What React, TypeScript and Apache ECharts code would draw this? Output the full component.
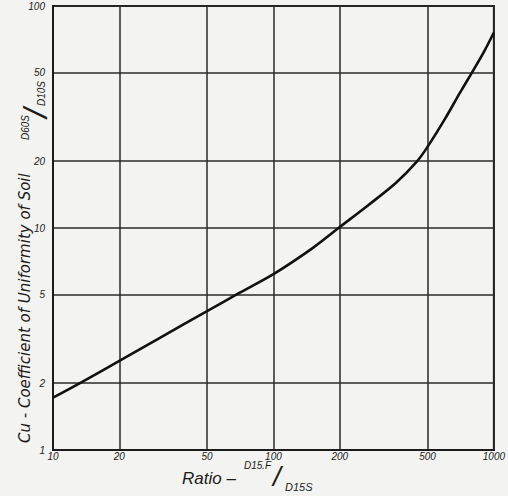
import React, { useEffect, useRef } from "react";
import * as echarts from "echarts";

// Ratio D15F / D15S  (x) and coefficient of uniformity Cu (y)
const ratioValues = [10, 13, 20, 30, 50, 70, 100, 150, 200, 270, 360, 447, 500, 600, 700, 794, 900, 1000];
const cuValues = [1.72, 1.98, 2.52, 3.17, 4.22, 5.1, 6.2, 8.1, 10.1, 12.7, 16.0, 19.9, 23.2, 31, 40.5, 50, 62, 76];

const xTicks = [10, 20, 50, 100, 200, 500, 1000];
const yTicks = [1, 2, 5, 10, 20, 50, 100];

const yTitleMain = "Cu - Coefficient of Uniformity of Soil";
const yTitleNum = "D60S";
const yTitleDen = "D10S";
const xTitleMain = "Ratio –";
const xTitleNum = "D15.F";
const xTitleDen = "D15S";

const FONT = "'Liberation Sans', 'DejaVu Sans', sans-serif";
const FONT2 = "'DejaVu Sans', 'Liberation Sans', sans-serif";
const INK = "#1b1b1b";

export default function App() {
  const ref = useRef<HTMLDivElement>(null);
  useEffect(() => {
    if (!ref.current) return;
    const chart = echarts.init(ref.current, undefined, { renderer: "svg" });
    const points = ratioValues.map((x, i) => [x, cuValues[i]]);
    const tickLabel = {
      fontFamily: FONT,
      fontStyle: "italic" as const,
      fontSize: 10,
      color: INK,
    };
    chart.setOption({
      animation: false,
      backgroundColor: "#f3f3f1",
      grid: {
        left: 53,
        right: 12,
        top: 6,
        bottom: 46,
        show: true,
        borderColor: INK,
        borderWidth: 2,
        backgroundColor: "transparent",
      },
      xAxis: {
        type: "log",
        logBase: 10,
        min: 10,
        max: 1000,
        axisLine: { show: true, lineStyle: { color: INK, width: 2 } },
        axisTick: { show: false, customValues: xTicks },
        axisLabel: { ...tickLabel, customValues: xTicks, margin: 1, formatter: (v: number) => String(Math.round(v)) },
        splitLine: { show: true, lineStyle: { color: "#2a2a2a", width: 1.5 } },
        minorTick: { show: false },
        minorSplitLine: { show: false },
      },
      yAxis: {
        type: "log",
        logBase: 10,
        min: 1,
        max: 100,
        axisLine: { show: true, lineStyle: { color: INK, width: 2 } },
        axisTick: { show: false, customValues: yTicks },
        axisLabel: { ...tickLabel, customValues: yTicks, margin: 8, formatter: (v: number) => String(Math.round(v)) },
        splitLine: { show: true, lineStyle: { color: "#2a2a2a", width: 1.5 } },
        minorTick: { show: false },
        minorSplitLine: { show: false },
      },
      series: [
        {
          type: "line",
          data: points,
          smooth: 0.3,
          symbol: "none",
          lineStyle: { color: "#111", width: 2.6 },
        },
      ],
      graphic: [
        {
          type: "text",
          x: 25,
          y: 443,
          rotation: Math.PI / 2,
          style: {
            text: yTitleMain,
            font: `italic 15px ${FONT2}`,
            fill: INK,
            align: "left",
            verticalAlign: "middle",
          },
        },
        {
          type: "text",
          x: 25,
          y: 140,
          rotation: Math.PI / 2,
          style: {
            text: yTitleNum,
            font: `italic 10px ${FONT}`,
            fill: INK,
            align: "left",
            verticalAlign: "middle",
          },
        },
        {
          type: "text",
          x: 35,
          y: 113,
          rotation: Math.PI / 2,
          style: {
            text: "/",
            font: `italic 34px ${FONT}`,
            fill: INK,
            align: "center",
            verticalAlign: "middle",
          },
        },
        {
          type: "text",
          x: 41,
          y: 106,
          rotation: Math.PI / 2,
          style: {
            text: yTitleDen,
            font: `italic 10px ${FONT}`,
            fill: INK,
            align: "left",
            verticalAlign: "middle",
          },
        },
        {
          type: "text",
          x: 182,
          y: 478,
          style: {
            text: xTitleMain,
            font: `italic 17px ${FONT}`,
            fill: INK,
            align: "left",
            verticalAlign: "middle",
          },
        },
        {
          type: "text",
          x: 244,
          y: 465,
          style: {
            text: xTitleNum,
            font: `italic 10px ${FONT}`,
            fill: INK,
            align: "left",
            verticalAlign: "middle",
          },
        },
        {
          type: "text",
          x: 277,
          y: 476,
          style: {
            text: "/",
            font: `italic 28px ${FONT}`,
            fill: INK,
            align: "center",
            verticalAlign: "middle",
          },
        },
        {
          type: "text",
          x: 285,
          y: 487,
          style: {
            text: xTitleDen,
            font: `italic 11px ${FONT}`,
            fill: INK,
            align: "left",
            verticalAlign: "middle",
          },
        },
      ],
    });
    return () => chart.dispose();
  }, []);
  return (
    <div
      ref={ref}
      style={{ position: "fixed", left: 0, top: 0, width: 508, height: 496 }}
    />
  );
}
